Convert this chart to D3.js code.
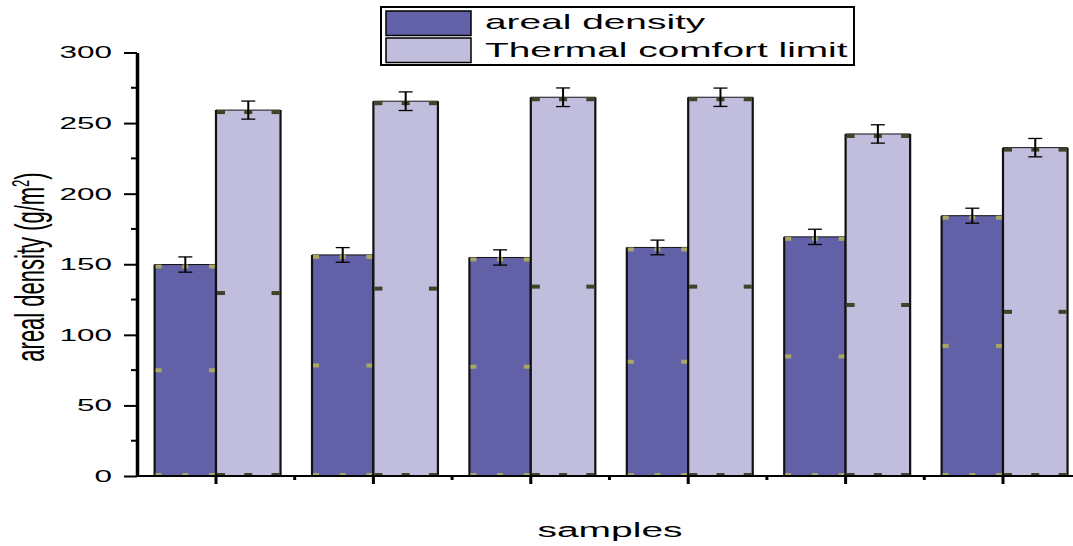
<!DOCTYPE html>
<html>
<head>
<meta charset="utf-8">
<script src="https://cdn.jsdelivr.net/npm/d3@7/dist/d3.min.js"></script>
<style>
  html, body { margin: 0; padding: 0; background: #fff; }
  svg { display: block; }
  text { font-family: "Liberation Sans", Arial, sans-serif; fill: #000; }
</style>
</head>
<body>
<svg id="chart" width="1073" height="546"></svg>
<script>
// Sample positions along the x axis (no labels are printed on it)
const samples = [1, 2, 3, 4, 5, 6];
// Areal density (g/m²) and its standard deviation
const arealDensity = [149.8, 156.6, 154.8, 161.9, 169.4, 184.4];
const arealDensityErr = [5.4, 5.2, 5.4, 5.2, 5.4, 5.3];
// Thermal comfort limit and its standard deviation
const thermalLimit = [259.2, 265.5, 268.3, 268.3, 242.3, 232.6];
const thermalLimitErr = [6.4, 6.6, 6.6, 6.5, 6.5, 6.5];
// Y axis tick values
const yTicks = [0, 50, 100, 150, 200, 250, 300];
const yMinorTicks = [25, 75, 125, 175, 225, 275];
const seriesNames = ["areal density", "Thermal comfort limit"];

const colors = { dense: "#6260a6", light: "#c1bedd", markDense: "#a8a864", markLight: "#3e4428" };
const SX = 1.85; // horizontal stretch of the lettering

const svg = d3.select("#chart");
const x = d3.scaleLinear().domain([0.5, 6.5]).range([137.3, 137.3 + 6 * 157.4]);
const y = d3.scaleLinear().domain([0, 300]).range([476, 52.5]);

const series = [
  { key: "dense", vals: arealDensity, errs: arealDensityErr, off: -0.39, w: 0.39, mw: 6, fill: colors.dense, mark: colors.markDense },
  { key: "light", vals: thermalLimit, errs: thermalLimitErr, off: 0, w: 0.41, mw: 8, fill: colors.light, mark: colors.markLight }
];

const plot = svg.append("g");

series.forEach(s => {
  const g = plot.append("g").attr("class", "series-" + s.key);
  samples.forEach((c, i) => {
    const x0 = x(c + s.off), x1 = x(c + s.off + s.w);
    const yt = y(s.vals[i]), yb = y(0);
    g.append("rect")
      .attr("x", x0).attr("y", yt)
      .attr("width", x1 - x0).attr("height", yb - yt)
      .attr("fill", s.fill);
    // outline: thin top, heavy sides
    g.append("line").attr("x1", x0).attr("x2", x1).attr("y1", yt).attr("y2", yt)
      .attr("stroke", "#111").attr("stroke-width", 1);
    [x0, x1].forEach(xx => g.append("line")
      .attr("x1", xx).attr("x2", xx).attr("y1", yt).attr("y2", yb)
      .attr("stroke", "#111").attr("stroke-width", 2.2));
    // small handle marks at bottom, middle and top of each bar
    const mw = s.mw, mh = 4;
    const xm = (x0 + x1) / 2;
    const marks = [
      [x0 + 1, y(0) - 3], [xm - mw / 2, y(0) - 3], [x1 - mw - 1, y(0) - 3],
      [x0 + 1, y(s.vals[i] / 2) - 2], [x1 - mw - 1, y(s.vals[i] / 2) - 2],
      [x0 + 1, yt], [xm - mw / 2, yt], [x1 - mw - 1, yt]
    ];
    marks.forEach(([mx, my]) => g.append("rect")
      .attr("x", mx).attr("y", my).attr("width", mw).attr("height", mh)
      .attr("fill", s.mark));
    // error bar
    const eTop = y(s.vals[i] + s.errs[i]), eBot = y(s.vals[i] - s.errs[i]);
    g.append("line").attr("x1", xm).attr("x2", xm).attr("y1", eTop).attr("y2", eBot)
      .attr("stroke", "#000").attr("stroke-width", 2);
    [eTop, eBot].forEach(ey => g.append("line")
      .attr("x1", xm - 7).attr("x2", xm + 7).attr("y1", ey).attr("y2", ey)
      .attr("stroke", "#000").attr("stroke-width", 1.3));
  });
});

// Y axis
const yAxis = svg.append("g").attr("transform", "translate(137,0)")
  .call(d3.axisLeft(y).tickValues(yTicks).tickSize(13).tickSizeOuter(0).tickPadding(12));
yAxis.select(".domain").attr("stroke", "#000").attr("stroke-width", 3.5);
yAxis.selectAll(".tick line").attr("stroke", "#000").attr("stroke-width", 2);
yAxis.selectAll(".tick text")
  .attr("font-size", 17)
  .attr("font-family", "Liberation Sans, Arial, sans-serif")
  .attr("x", -25 / SX)
  .attr("transform", `scale(${SX},1)`);
svg.append("g").selectAll("line").data(yMinorTicks).join("line")
  .attr("x1", 131).attr("x2", 137).attr("y1", d => y(d)).attr("y2", d => y(d))
  .attr("stroke", "#000").attr("stroke-width", 2);

// X axis: major ticks at the sample centres, minor ones halfway
const xAxisY = y(0);
svg.append("line").attr("x1", 136).attr("x2", 1073).attr("y1", xAxisY).attr("y2", xAxisY)
  .attr("stroke", "#000").attr("stroke-width", 2);
svg.append("g").selectAll("line").data(samples).join("line")
  .attr("x1", d => x(d)).attr("x2", d => x(d)).attr("y1", xAxisY).attr("y2", xAxisY + 8)
  .attr("stroke", "#000").attr("stroke-width", 3);
svg.append("g").selectAll("line").data(samples.slice(0, -1).map(d => d + 0.5)).join("line")
  .attr("x1", d => x(d)).attr("x2", d => x(d)).attr("y1", xAxisY).attr("y2", xAxisY + 4)
  .attr("stroke", "#000").attr("stroke-width", 3);

// Axis titles
const yTitle = svg.append("text")
  .attr("transform", `translate(44,267) scale(${SX},1) rotate(-90)`)
  .attr("text-anchor", "middle")
  .attr("font-size", 22);
yTitle.append("tspan").text("areal density (g/m");
yTitle.append("tspan").attr("font-size", 13).attr("dy", -8).text("2");
yTitle.append("tspan").attr("dy", 8).text(")");

svg.append("text")
  .attr("transform", `translate(610,537) scale(2.0,1)`)
  .attr("text-anchor", "middle")
  .attr("font-size", 19.5)
  .text("samples");

// Legend
const lg = svg.append("g");
lg.append("rect").attr("x", 381).attr("y", 7).attr("width", 473).attr("height", 58)
  .attr("fill", "#fff").attr("stroke", "#000").attr("stroke-width", 2);
[colors.dense, colors.light].forEach((c, i) => {
  const top = i === 0 ? 11 : 38;
  lg.append("rect").attr("x", 386).attr("y", top).attr("width", 85).attr("height", 24.5)
    .attr("fill", c).attr("stroke", "#000").attr("stroke-width", 1.5);
  lg.append("text")
    .attr("transform", `translate(485,${i === 0 ? 29 : 57}) scale(${SX},1)`)
    .attr("font-size", 21)
    .text(seriesNames[i]);
});
</script>
</body>
</html>
